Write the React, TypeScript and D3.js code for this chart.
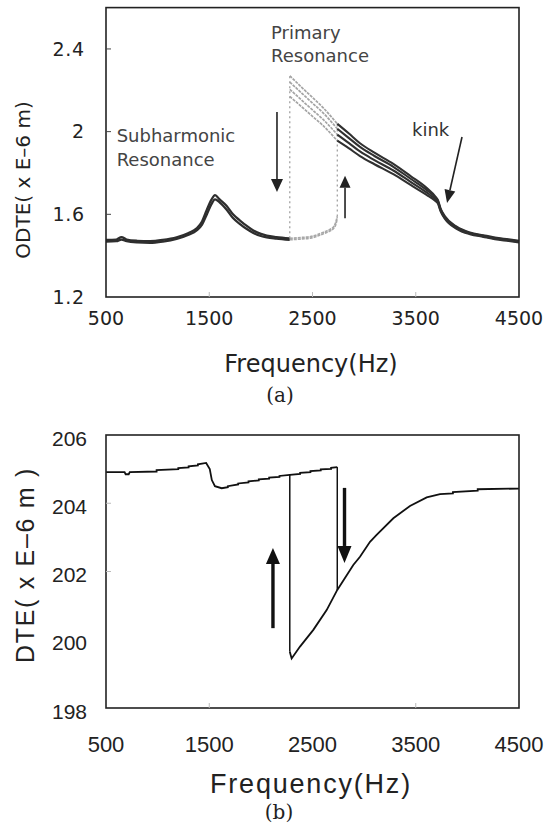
import React from "react";
import * as d3 from "d3";

// ---------- shared ----------
const FREQ_TICKS = [500, 1500, 2500, 3500, 4500];

// ---------- chart (a) : ODTE ----------
const A_Y_TICKS = [1.2, 1.6, 2, 2.4];
const A_Y_TICK_LABELS = ["1.2", "1.6", "2", "2.4"];
const A_INNER_X_TICKS = [1500, 2500, 3500];
const A_INNER_Y_TICKS = [1.6, 2, 2.4];

// sub-harmonic region, two overlapping runs (dark band)
const aLowFreq = [500, 600, 650, 700, 800, 926, 1050, 1184, 1300, 1378, 1430, 1475, 1520, 1556, 1600, 1669, 1730, 1798, 1860, 1927, 2000, 2057, 2150, 2280];
const aLowRunA = [1.476, 1.478, 1.49, 1.478, 1.472, 1.47, 1.476, 1.489, 1.51, 1.532, 1.565, 1.62, 1.67, 1.693, 1.672, 1.64, 1.6, 1.57, 1.545, 1.522, 1.505, 1.497, 1.49, 1.484];
const aLowRunB = [1.468, 1.47, 1.478, 1.47, 1.464, 1.462, 1.468, 1.481, 1.501, 1.522, 1.55, 1.598, 1.648, 1.672, 1.658, 1.622, 1.582, 1.553, 1.53, 1.51, 1.495, 1.488, 1.482, 1.476];

// lower branch of primary resonance (light grey)
const aLowerBranchFreq = [2280, 2400, 2481, 2550, 2619, 2680, 2705, 2725, 2740];
const aLowerBranchRunA = [1.484, 1.488, 1.492, 1.502, 1.516, 1.53, 1.54, 1.56, 1.59];
const aLowerBranchRunB = [1.477, 1.481, 1.485, 1.495, 1.509, 1.523, 1.533, 1.55, 1.58];

// upper branch runs
const aUpperFreq = [2280, 2400, 2500, 2600, 2740, 2850, 2960, 3100, 3283, 3450, 3605, 3690, 3715, 3740, 3783, 3896, 4025, 4154, 4267, 4400, 4500];
const aUpperRun1 = [2.27, 2.212, 2.165, 2.117, 2.038, 1.992, 1.944, 1.898, 1.844, 1.785, 1.728, 1.686, 1.668, 1.629, 1.59, 1.54, 1.512, 1.499, 1.488, 1.479, 1.472];
const aUpperRun2 = [2.24, 2.184, 2.138, 2.092, 2.014, 1.97, 1.926, 1.882, 1.83, 1.772, 1.718, 1.68, 1.664, 1.625, 1.586, 1.537, 1.509, 1.496, 1.485, 1.476, 1.469];
const aUpperRun3 = [2.205, 2.15, 2.105, 2.06, 1.986, 1.946, 1.904, 1.862, 1.812, 1.757, 1.706, 1.672, 1.658, 1.62, 1.582, 1.533, 1.507, 1.494, 1.483, 1.474, 1.467];
const aUpperRun4 = [2.17, 2.118, 2.074, 2.03, 1.956, 1.92, 1.882, 1.842, 1.794, 1.742, 1.694, 1.664, 1.652, 1.615, 1.578, 1.53, 1.504, 1.491, 1.48, 1.471, 1.464];
const aJumpFreqSplit = 2740;

// dotted jump lines
const aJumpFreq = [2280, 2740];
const aJumpLow = [1.484, 1.59];
const aJumpHigh = [2.27, 2.04];

// ---------- chart (b) : DTE ----------
const B_Y_TICKS = [198, 200, 202, 204, 206];
const B_INNER_X_TICKS = [1500, 3500];
const B_INNER_Y_TICKS = [202, 204];

// upper branch (stair-stepped record)
const bUpperFreq = [500, 680, 690, 720, 730, 990, 990, 1200, 1200, 1300, 1300, 1390, 1390, 1470, 1505, 1525, 1555, 1620, 1680, 1680, 1780, 1780, 1880, 1880, 1980, 1980, 2080, 2080, 2180, 2180, 2280, 2380, 2380, 2480, 2480, 2580, 2580, 2680, 2680, 2740];
const bUpperVal = [204.91, 204.91, 204.85, 204.85, 204.91, 204.93, 204.97, 205.0, 205.03, 205.05, 205.08, 205.11, 205.14, 205.18, 205.0, 204.68, 204.5, 204.44, 204.47, 204.5, 204.55, 204.58, 204.61, 204.64, 204.67, 204.7, 204.72, 204.75, 204.77, 204.8, 204.83, 204.86, 204.89, 204.91, 204.94, 204.96, 204.99, 205.01, 205.04, 205.06];

const bLowerFreq = [2280, 2298, 2379, 2508, 2637, 2740, 2895, 2960, 3057, 3121, 3283, 3444, 3606, 3735, 3860, 3860, 4100, 4100, 4500];
const bLowerVal = [199.65, 199.45, 199.8, 200.29, 200.87, 201.46, 202.19, 202.43, 202.87, 203.07, 203.56, 203.92, 204.17, 204.27, 204.29, 204.33, 204.37, 204.41, 204.43];

const bJumpFreq = [2280, 2740];
const bJumpHigh = [204.83, 205.06];
const bJumpLow = [199.65, 201.46];

// ---------- layout ----------
const W = 551, H = 833;
const X0 = 106, X1 = 519;
const A_TOP = 7.6, A_BOT = 297;
const B_TOP = 435, B_BOT = 708;

type Pt = [number, number];

function arrowPath(x1: number, y1: number, x2: number, y2: number, headLen: number, headHalf: number) {
  const dx = x2 - x1, dy = y2 - y1;
  const len = Math.hypot(dx, dy);
  const ux = dx / len, uy = dy / len;
  const bx = x2 - ux * headLen, by = y2 - uy * headLen;
  const px = -uy, py = ux;
  return {
    shaft: `M${x1},${y1}L${bx},${by}`,
    head: `M${x2},${y2}L${bx + px * headHalf},${by + py * headHalf}L${bx - px * headHalf},${by - py * headHalf}Z`,
  };
}

function Arrow({ x1, y1, x2, y2, headLen, headHalf, width, color }: any) {
  const a = arrowPath(x1, y1, x2, y2, headLen, headHalf);
  return (
    <g>
      <path d={a.shaft} stroke={color} strokeWidth={width} fill="none" />
      <path d={a.head} fill={color} stroke="none" />
    </g>
  );
}

export default function App() {
  const x = d3.scaleLinear().domain([500, 4500]).range([X0, X1]);
  const ya = d3.scaleLinear().domain([1.2, 2.6]).range([A_BOT, A_TOP]);
  const yb = d3.scaleLinear().domain([198, 206]).range([B_BOT, B_TOP]);

  const lineA = d3.line<Pt>().x((d) => x(d[0])).y((d) => ya(d[1])).curve(d3.curveMonotoneX);
  const lineB = d3.line<Pt>().x((d) => x(d[0])).y((d) => yb(d[1]));
  const zip = (fs: number[], vs: number[]): Pt[] => fs.map((f, i) => [f, vs[i]]);

  const upperRuns = [aUpperRun1, aUpperRun2, aUpperRun3, aUpperRun4];

  const sansA = "'DejaVu Sans', Verdana, sans-serif";
  const sansB = "'Liberation Sans', Arial, sans-serif";
  const serif = "'DejaVu Serif', 'Liberation Serif', serif";

  return (
    <svg width={W} height={H} style={{ position: "absolute", left: 0, top: 0, background: "#fff" }}>
      {/* ================= chart (a) ================= */}
      <g>
        {[aLowRunA, aLowRunB].map((r, i) => (
          <path key={"al" + i} d={lineA(zip(aLowFreq, r)) || ""} fill="none" stroke="#2e2e2e" strokeWidth={2.3} />
        ))}
        {[aLowerBranchRunA, aLowerBranchRunB].map((r, i) => (
          <path key={"alb" + i} d={lineA(zip(aLowerBranchFreq, r)) || ""} fill="none" stroke="#a8a8a8" strokeWidth={1.7} strokeDasharray="3,1" />
        ))}
        {aJumpFreq.map((f, i) => (
          <line key={"aj" + i} x1={x(f)} x2={x(f)} y1={ya(aJumpLow[i])} y2={ya(aJumpHigh[i])} stroke="#9a9a9a" strokeWidth={1.2} strokeDasharray="2,3" />
        ))}
        {upperRuns.map((r, i) => {
          const pts = zip(aUpperFreq, r);
          const light = pts.filter((p) => p[0] <= aJumpFreqSplit);
          const dark = pts.filter((p) => p[0] >= aJumpFreqSplit);
          return (
            <g key={"au" + i}>
              <path d={lineA(light) || ""} fill="none" stroke="#a4a4a4" strokeWidth={1.7} strokeDasharray="3,1" />
              <path d={lineA(dark) || ""} fill="none" stroke="#303030" strokeWidth={2.1} />
            </g>
          );
        })}

        <rect x={X0} y={A_TOP} width={X1 - X0} height={A_BOT - A_TOP} fill="none" stroke="#222" strokeWidth={1.6} />
        {A_INNER_Y_TICKS.map((t) => (
          <line key={"ayt" + t} x1={X0} x2={X0 + 5} y1={ya(t)} y2={ya(t)} stroke="#444" strokeWidth={1} />
        ))}
        {A_INNER_X_TICKS.map((t) => (
          <line key={"axt" + t} x1={x(t)} x2={x(t)} y1={A_BOT} y2={A_BOT - 5} stroke="#bbb" strokeWidth={1} />
        ))}

        {A_Y_TICKS.map((t, i) => (
          <text key={"ayl" + t} x={85} y={ya(t)} dy="0.36em" textAnchor="end" fontFamily={sansA} fontSize={19} letterSpacing={0.8} fill="#222">
            {A_Y_TICK_LABELS[i]}
          </text>
        ))}
        {FREQ_TICKS.map((t) => (
          <text key={"axl" + t} x={x(t)} y={325} textAnchor="middle" fontFamily={sansA} fontSize={19} fill="#222">
            {t}
          </text>
        ))}
        <text x={311} y={372} textAnchor="middle" fontFamily={sansA} fontSize={24} fill="#222">
          Frequency(Hz)
        </text>
        <text transform={`translate(30,180) rotate(-90)`} textAnchor="middle" fontFamily={sansA} fontSize={20} fill="#222">
          ODTE( x E–6 m)
        </text>

        <text x={x(2098)} y={ya(2.447)} fontFamily={sansA} fontSize={18} fill="#444">Primary</text>
        <text x={x(2098)} y={ya(2.335)} fontFamily={sansA} fontSize={18} fill="#444">Resonance</text>
        <text x={x(603)} y={ya(1.951)} fontFamily={sansA} fontSize={18} fill="#444">Subharmonic</text>
        <text x={x(603)} y={ya(1.835)} fontFamily={sansA} fontSize={18} fill="#444">Resonance</text>
        <text x={x(3464)} y={ya(1.979)} fontFamily={sansA} fontSize={18} fill="#333">kink</text>

        <Arrow x1={x(2156)} y1={ya(2.095)} x2={x(2156)} y2={ya(1.708)} headLen={13} headHalf={6} width={1.6} color="#222" />
        <Arrow x1={x(2815)} y1={ya(1.581)} x2={x(2815)} y2={ya(1.787)} headLen={12} headHalf={5.5} width={1.6} color="#222" />
        <Arrow x1={x(3948)} y1={ya(1.974)} x2={x(3803)} y2={ya(1.655)} headLen={13} headHalf={5.5} width={1.6} color="#222" />

        <text x={280} y={402} textAnchor="middle" fontFamily={serif} fontSize={20} fill="#222">(a)</text>
      </g>

      {/* ================= chart (b) ================= */}
      <g>
        <path d={lineB(zip(bUpperFreq, bUpperVal)) || ""} fill="none" stroke="#111" strokeWidth={1.8} />
        <path d={lineB(zip(bLowerFreq, bLowerVal)) || ""} fill="none" stroke="#111" strokeWidth={1.8} />
        {bJumpFreq.map((f, i) => (
          <path key={"bj" + i} d={lineB([[f, bJumpHigh[i]], [f, bJumpLow[i]]]) || ""} fill="none" stroke="#111" strokeWidth={1.5} />
        ))}

        <rect x={X0} y={B_TOP} width={X1 - X0} height={B_BOT - B_TOP} fill="none" stroke="#222" strokeWidth={1.6} />
        {B_INNER_Y_TICKS.map((t) => (
          <line key={"byt" + t} x1={X0} x2={X0 + 5} y1={yb(t)} y2={yb(t)} stroke="#bbb" strokeWidth={1} />
        ))}
        {B_INNER_X_TICKS.map((t) => (
          <line key={"bxt" + t} x1={x(t)} x2={x(t)} y1={B_BOT} y2={B_BOT - 5} stroke="#bbb" strokeWidth={1} />
        ))}

        {B_Y_TICKS.map((t) => (
          <text key={"byl" + t} x={87} y={yb(t) + 3} dy="0.36em" textAnchor="end" fontFamily={sansB} fontSize={21} fill="#222">
            {t}
          </text>
        ))}
        {FREQ_TICKS.map((t) => (
          <text key={"bxl" + t} x={x(t)} y={752} textAnchor="middle" fontFamily={sansB} fontSize={22} fill="#222">
            {t}
          </text>
        ))}
        <text x={311} y={793} textAnchor="middle" fontFamily={sansB} fontSize={27} letterSpacing={1.8} fill="#222">
          Frequency(Hz)
        </text>
        <text transform={`translate(34,565) rotate(-90)`} textAnchor="middle" fontFamily={sansB} fontSize={25} letterSpacing={1.7} fill="#222">
          DTE( x E–6 m )
        </text>

        <Arrow x1={x(2117)} y1={yb(200.34)} x2={x(2117)} y2={yb(202.69)} headLen={16} headHalf={7} width={3.4} color="#111" />
        <Arrow x1={x(2810)} y1={yb(204.45)} x2={x(2810)} y2={yb(202.25)} headLen={17} headHalf={7} width={3.4} color="#111" />

        <text x={279} y={819} textAnchor="middle" fontFamily={serif} fontSize={20} fill="#222">(b)</text>
      </g>
    </svg>
  );
}
